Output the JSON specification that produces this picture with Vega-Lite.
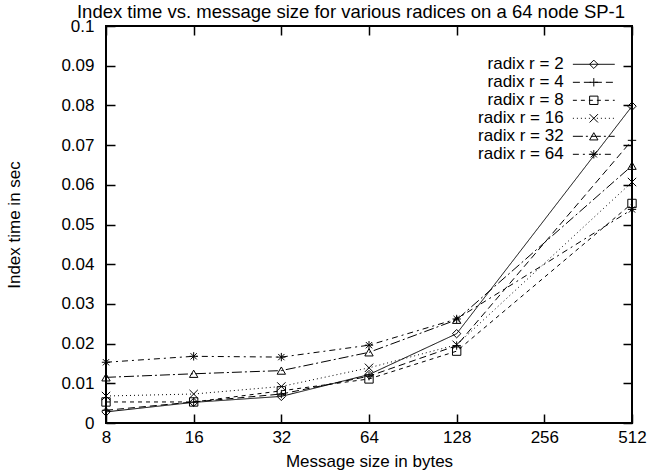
{
  "$schema": "https://vega.github.io/schema/vega-lite/v6.json",
  "width": 526,
  "height": 397,
  "autosize": {"type": "none"},
  "padding": {"left": 106, "top": 26, "right": 15, "bottom": 49},
  "background": "white",
  "title": {
    "text": "Index time vs. message size for various radices on a 64 node SP-1",
    "font": "Liberation Sans",
    "fontSize": 18.5,
    "fontWeight": "normal",
    "color": "black",
    "baseline": "alphabetic",
    "offset": -19.5,
    "dx": -18
  },
  "config": {
    "view": {"stroke": "black", "strokeWidth": 2},
    "axis": {
      "domain": false,
      "grid": false,
      "tickColor": "black",
      "tickWidth": 1.5,
      "tickSize": -9,
      "labelFont": "Liberation Sans",
      "labelFontSize": 17,
      "labelColor": "black",
      "titleFont": "Liberation Sans",
      "titleFontSize": 17,
      "titleFontWeight": "normal",
      "titleColor": "black"
    }
  },
  "data": {
    "values": [
      {"size": 8, "r": 2, "time": 0.0028},
      {"size": 16, "r": 2, "time": 0.0052},
      {"size": 32, "r": 2, "time": 0.0067},
      {"size": 64, "r": 2, "time": 0.0122},
      {"size": 128, "r": 2, "time": 0.0225},
      {"size": 512, "r": 2, "time": 0.0798},
      {"size": 8, "r": 4, "time": 0.0032},
      {"size": 16, "r": 4, "time": 0.0053},
      {"size": 32, "r": 4, "time": 0.0073},
      {"size": 64, "r": 4, "time": 0.0118},
      {"size": 128, "r": 4, "time": 0.0195},
      {"size": 512, "r": 4, "time": 0.0712},
      {"size": 8, "r": 8, "time": 0.0053},
      {"size": 16, "r": 8, "time": 0.0053},
      {"size": 32, "r": 8, "time": 0.0081},
      {"size": 64, "r": 8, "time": 0.0111},
      {"size": 128, "r": 8, "time": 0.0181},
      {"size": 512, "r": 8, "time": 0.0553},
      {"size": 8, "r": 16, "time": 0.0068},
      {"size": 16, "r": 16, "time": 0.0073},
      {"size": 32, "r": 16, "time": 0.0092},
      {"size": 64, "r": 16, "time": 0.0139},
      {"size": 128, "r": 16, "time": 0.0197},
      {"size": 512, "r": 16, "time": 0.0607},
      {"size": 8, "r": 32, "time": 0.0115},
      {"size": 16, "r": 32, "time": 0.0124},
      {"size": 32, "r": 32, "time": 0.0132},
      {"size": 64, "r": 32, "time": 0.0178},
      {"size": 128, "r": 32, "time": 0.026},
      {"size": 512, "r": 32, "time": 0.0648},
      {"size": 8, "r": 64, "time": 0.0153},
      {"size": 16, "r": 64, "time": 0.0168},
      {"size": 32, "r": 64, "time": 0.0166},
      {"size": 64, "r": 64, "time": 0.0196},
      {"size": 128, "r": 64, "time": 0.0262},
      {"size": 512, "r": 64, "time": 0.0538}
    ]
  },
  "resolve": {"axis": {"x": "independent", "y": "independent"}},
  "layer": [
    {
      "mark": {"type": "line", "color": "black", "strokeWidth": 1},
      "encoding": {
        "x": {
          "field": "size", "type": "quantitative",
          "scale": {"type": "log", "base": 2, "domain": [8, 512]},
          "axis": {"values": [8, 16, 32, 64, 128, 256, 512], "format": "d", "title": "Message size in bytes", "labelFlush": false, "labelOverlap": false, "labelPadding": 15, "titlePadding": 8}
        },
        "y": {
          "field": "time", "type": "quantitative",
          "scale": {"domain": [0, 0.1]},
          "axis": {"values": [0, 0.01, 0.02, 0.03, 0.04, 0.05, 0.06, 0.07, 0.08, 0.09, 0.1], "format": "~g", "title": "Index time in sec", "labelPadding": 21, "titlePadding": 37}
        },
        "strokeDash": {
          "field": "r", "type": "ordinal",
          "scale": {"domain": [2, 4, 8, 16, 32, 64], "range": [[1, 0], [7, 4], [4, 4], [1, 3], [10, 3, 2, 3], [6, 4, 2, 4]]},
          "legend": {
            "orient": "none", "legendX": 479.3, "legendY": 29.8, "title": null, "padding": 0,
            "labelExpr": "'radix r = ' + datum.label",
            "labelAlign": "right", "labelOffset": -38.7, "labelBaseline": "middle",
            "labelFont": "Liberation Sans", "labelFontSize": 17, "labelColor": "black",
            "symbolType": "M-5,0H5", "symbolSize": 70, "symbolStrokeColor": "black", "symbolStrokeWidth": 1, "symbolOpacity": 1,
            "rowPadding": 0
          }
        }
      }
    },
    {
      "mark": {"type": "point", "filled": false, "color": "black", "strokeWidth": 1, "size": 70, "opacity": 1},
      "encoding": {
        "x": {
          "field": "size", "type": "quantitative",
          "axis": {"orient": "top", "values": [8, 16, 32, 64, 128, 256, 512], "labels": false, "title": null}
        },
        "y": {
          "field": "time", "type": "quantitative",
          "axis": {"orient": "right", "values": [0, 0.01, 0.02, 0.03, 0.04, 0.05, 0.06, 0.07, 0.08, 0.09, 0.1], "labels": false, "title": null}
        },
        "shape": {
          "field": "r", "type": "ordinal",
          "scale": {"range": ["diamond", "M-1,0H1M0,-1V1", "square", "M-1,-1L1,1M-1,1L1,-1", "triangle-up", "M-1,0H1M0,-1V1M-0.75,-0.75L0.75,0.75M-0.75,0.75L0.75,-0.75"]},
          "legend": {
            "orient": "none", "legendX": 479.3, "legendY": 29.8, "title": null, "padding": 0,
            "labelExpr": "'radix r = ' + datum.label",
            "labelAlign": "right", "labelOffset": -38.7, "labelBaseline": "middle",
            "labelFont": "Liberation Sans", "labelFontSize": 17, "labelColor": "black", "labelOpacity": 0,
            "symbolSize": 70, "symbolStrokeColor": "black", "symbolStrokeWidth": 1, "symbolFillColor": "white",
            "rowPadding": 0
          }
        }
      }
    }
  ]
}
